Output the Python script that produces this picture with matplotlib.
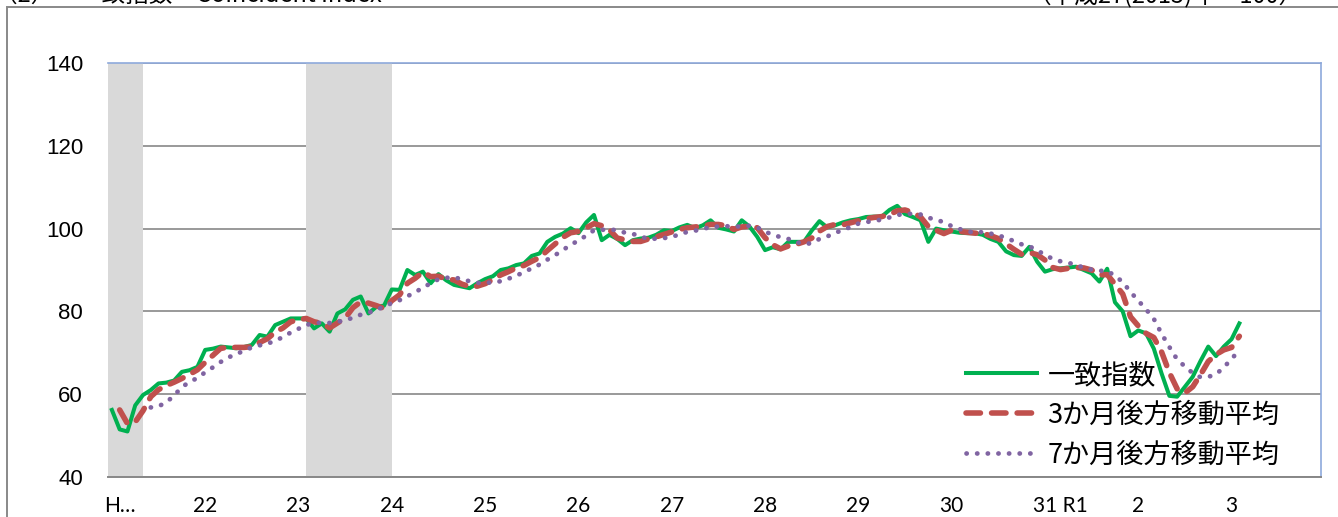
#!/usr/bin/env python3

import numpy as np
import matplotlib
matplotlib.use("Agg")
import matplotlib.pyplot as plt
from matplotlib.patches import Rectangle

plt.rcParams['font.family'] = ['Noto Sans CJK JP', 'DejaVu Sans']

# monthly coincident index, Jan 2009 (H21.1) .. Feb 2021 (R3.2)
coincident = [
    56.2, 51.5, 51.0, 57.3, 59.8, 61.0, 62.6, 62.8, 63.3, 65.4, 65.8, 66.6,
    70.7, 71.0, 71.5, 71.3, 71.1, 71.4, 71.9, 74.3, 73.9, 76.7, 77.5, 78.3,
    78.3, 78.3, 75.9, 77.1, 75.1, 79.5, 80.5, 82.8, 83.6, 79.5, 81.1, 81.4,
    85.3, 85.2, 90.0, 88.8, 89.6, 86.8, 89.0, 87.5, 86.4, 86.0, 85.6, 86.8,
    87.8, 88.5, 90.0, 90.4, 91.2, 91.6, 93.4, 94.0, 96.8, 98.0, 98.8, 100.1,
    98.9, 101.5, 103.3, 97.2, 98.5, 97.5, 96.0, 97.2, 97.6, 97.8, 98.5, 99.6,
    99.4, 100.3, 100.9, 100.1, 100.8, 102.0, 100.2, 99.8, 99.3, 102.0, 100.5, 98.0,
    94.8, 95.5, 95.0, 96.8, 96.8, 96.8, 99.5, 101.8, 100.3, 100.8, 101.5, 102.0,
    102.3, 102.8, 102.9, 102.9, 104.5, 105.5, 103.5, 102.8, 102.0, 96.8, 100.0, 99.6,
    99.3, 99.0, 98.9, 98.9, 98.5, 97.5, 96.8, 94.5, 93.6, 93.4, 95.6, 92.0,
    89.6, 90.2, 90.4, 90.6, 90.8, 90.0, 89.2, 87.2, 90.3, 82.2, 80.0, 74.0,
    75.4, 74.7, 71.0, 65.0, 59.6, 59.4, 61.8, 64.2, 68.0, 71.5, 69.2, 71.5,
    73.3, 77.1]

# 3-month backward moving average, Feb 2009 ..
ma3 = [
    56.2, 52.9, 53.3, 56.0, 59.4, 61.1, 62.1, 62.9, 63.8, 64.8, 65.9,
    67.7, 69.4, 71.1, 71.3, 71.3, 71.3, 71.5, 72.5, 73.4, 75.0, 76.0, 77.5,
    78.0, 78.3, 77.5, 77.1, 76.0, 77.2, 78.4, 80.9, 82.3, 82.0, 81.4, 80.7,
    82.6, 84.0, 86.8, 88.0, 89.5, 88.4, 88.5, 87.8, 87.6, 86.6, 86.0, 86.1,
    86.7, 87.7, 88.8, 89.6, 90.5, 91.1, 92.1, 93.0, 94.7, 96.3, 97.9, 99.0,
    99.3, 100.2, 101.2, 100.7, 99.7, 97.7, 97.3, 96.9, 96.9, 97.5, 98.0, 98.6,
    99.2, 99.8, 100.2, 100.4, 100.6, 101.0, 101.0, 100.7, 99.8, 100.4, 100.6, 100.2,
    97.8, 96.1, 95.1, 95.8, 96.2, 96.8, 97.7, 99.4, 100.5, 101.0, 100.9, 101.4,
    101.9, 102.4, 102.7, 102.9, 103.4, 104.3, 104.5, 103.9, 102.8, 100.5, 99.6, 98.8,
    99.6, 99.3, 99.1, 98.9, 98.8, 98.3, 97.6, 96.3, 95.0, 93.8, 94.2, 93.7,
    92.4, 90.6, 90.1, 90.4, 90.6, 90.5, 90.0, 88.8, 88.9, 86.6, 84.2, 78.7,
    76.5, 74.7, 73.7, 70.2, 65.2, 61.3, 60.3, 61.8, 64.7, 67.9, 69.6, 70.7,
    71.3, 74.0]

# 7-month backward moving average, Jun 2009 ..
ma7 = [
    56.8, 57.1, 58.0, 59.7, 61.7, 63.0, 63.9,
    65.3, 66.5, 67.8, 68.9, 69.7, 70.5, 71.3, 71.8, 72.2, 72.9, 73.8, 74.9,
    75.8, 76.8, 77.0, 77.4, 77.2, 77.5, 77.8, 78.5, 79.2, 79.7, 80.3, 81.2,
    82.0, 82.7, 83.7, 84.5, 85.9, 86.7, 87.8, 88.1, 88.3, 87.7, 87.3, 86.9,
    87.0, 86.9, 87.3, 87.9, 88.6, 89.5, 90.4, 91.3, 92.5, 93.6, 94.8, 96.1,
    97.1, 98.3, 99.6, 99.7, 99.8, 99.6, 99.0, 98.7, 98.2, 97.4, 97.6, 97.7,
    98.0, 98.6, 99.2, 99.5, 99.9, 100.4, 100.5, 100.6, 100.4, 100.6, 100.7, 100.3,
    99.2, 98.6, 97.9, 97.5, 96.8, 96.2, 96.5, 97.5, 98.1, 99.0, 99.6, 100.4,
    101.2, 101.6, 101.8, 102.2, 102.7, 103.3, 103.5, 103.6, 103.4, 102.6, 102.2, 101.5,
    100.6, 99.9, 99.4, 98.9, 99.2, 98.8, 98.4, 97.7, 97.0, 96.2, 95.7, 94.8,
    93.6, 92.7, 92.1, 91.7, 91.3, 90.5, 90.1, 89.8, 89.8, 88.6, 87.1, 84.7,
    82.6, 80.5, 78.2, 74.6, 71.4, 68.4, 66.7, 65.1, 64.1, 64.2, 64.8, 66.5,
    68.5, 70.7]

# recession periods (month index from Jan 2009)
recessions = [(-0.5, 4.0), (25.0, 36.0)]

year_labels = ["H…", "22", "23", "24", "25", "26", "27", "28", "29", "30", "31 R1", "2", "3"]
year_ticks = [1, 12, 24, 36, 48, 60, 72, 84, 96, 108, 122, 132, 144]

series_names = ["一致指数", "3か月後方移動平均", "7か月後方移動平均"]

months = np.arange(len(coincident))
n_cats = 156   # Jan 2009 .. Dec 2021 on the category axis

W, H = 1338, 517
fig = plt.figure(figsize=(W / 100, H / 100), dpi=100)
ax = fig.add_axes([108 / W, 40 / H, (1321 - 108) / W, (477 - 63) / H])

for a, b in recessions:
    ax.axvspan(a, b, color="#D9D9D9", lw=0, zorder=1)

ax.plot(months, coincident, color="#00B050", lw=2.9, zorder=3,
        solid_joinstyle="round", label=series_names[0])
ax.plot(months[len(months) - len(ma3):], ma3, color="#C0504D", lw=4.0,
        linestyle=(0, (2.6, 2.0)), dash_capstyle="round", zorder=4,
        label=series_names[1])
ax.plot(months[len(months) - len(ma7):], ma7, color="#8064A2", lw=3.4,
        linestyle=(0, (0.05, 2.2)), dash_capstyle="round", zorder=5,
        label=series_names[2])

ax.set_xlim(-0.5, n_cats - 0.5)
ax.set_ylim(40, 140)
ax.set_yticks(np.arange(40, 141, 20))
ax.set_xticks(year_ticks)
ax.set_xticklabels(year_labels)
ax.yaxis.grid(True, color="#878787", lw=1.2)
ax.set_axisbelow(True)
ax.tick_params(axis="y", length=0, pad=18, labelsize=16)
ax.tick_params(axis="x", length=0, pad=14, labelsize=15)
for lbl in ax.get_yticklabels():
    lbl.set_fontfamily("Liberation Sans")
for lbl in ax.get_xticklabels():
    lbl.set_fontfamily(["Lato", "DejaVu Sans"])

ax.spines["left"].set_visible(False)
ax.spines["top"].set_color("#8EA9DB")
ax.spines["right"].set_color("#8EA9DB")
ax.spines["top"].set_linewidth(1.2)
ax.spines["right"].set_linewidth(1.2)
ax.spines["bottom"].set_color("#878787")
ax.spines["bottom"].set_linewidth(1.4)

leg = ax.legend(loc="upper left", bbox_to_anchor=(0.707, 0.278), frameon=False,
                fontsize=19.5, handlelength=2.65, handletextpad=0.37,
                labelspacing=0.48, borderpad=0, borderaxespad=0)

# outer chart frame
fig.patches.append(Rectangle((7 / W, -0.1), 1.2, 1.1 - 7 / H,
                             transform=fig.transFigure, fill=False,
                             edgecolor="#898989", lw=1.4))

# titles, mostly cut off by the top edge as in the source
fig.text(-6 / W, 1 - 2 / H, "（2）　一致指数　Coincident Index", fontsize=17,
         va="baseline", ha="left")
fig.text(1303 / W, 1 - 2 / H, "（平成27(2015)年＝100）", fontsize=17,
         va="baseline", ha="right")

fig.savefig("out.png", dpi=100)
